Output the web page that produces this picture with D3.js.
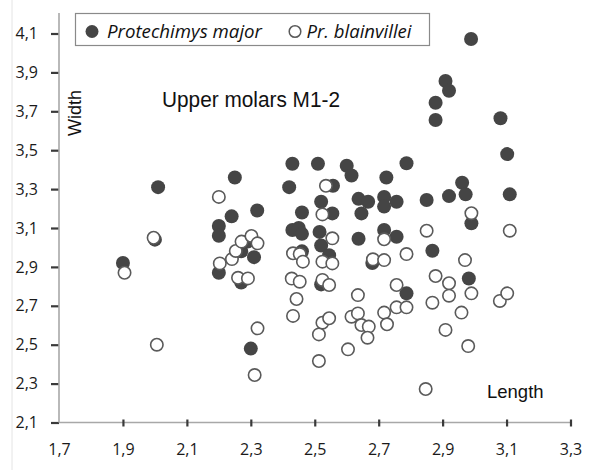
<!DOCTYPE html>
<html>
<head>
<meta charset="utf-8">
<script src="https://cdn.jsdelivr.net/npm/d3@7"></script>
<style>
  body { margin: 0; background: #fff; }
  svg { display: block; }
</style>
</head>
<body>
<div id="chart"></div>
<script>
// tick values for both axes
var xTicks = [1.7, 1.9, 2.1, 2.3, 2.5, 2.7, 2.9, 3.1, 3.3];
var yTicks = [2.1, 2.3, 2.5, 2.7, 2.9, 3.1, 3.3, 3.5, 3.7, 3.9, 4.1];

var seriesNames = ["Protechimys major", "Pr. blainvillei"];

// Protechimys major: [length, width]
var majorPts = [
  [1.90, 2.92], [2.00, 3.04], [2.01, 3.31], [2.20, 3.11], [2.20, 3.06], [2.20, 2.87],
  [2.24, 3.16], [2.25, 3.36], [2.27, 2.98], [2.27, 2.82], [2.29, 3.03], [2.31, 2.95],
  [2.30, 2.48], [2.32, 3.19], [2.43, 3.43], [2.42, 3.31], [2.46, 3.18], [2.43, 3.09],
  [2.45, 3.10], [2.46, 3.07], [2.46, 2.98], [2.51, 3.43], [2.52, 3.235], [2.515, 3.08],
  [2.52, 3.01], [2.545, 2.96], [2.52, 2.81], [2.555, 3.175], [2.557, 3.317], [2.60, 3.42],
  [2.615, 3.37], [2.637, 3.25], [2.667, 3.235], [2.646, 3.175], [2.637, 3.045], [2.68, 2.92],
  [2.717, 3.26], [2.717, 3.21], [2.724, 3.36], [2.717, 3.09], [2.756, 3.235], [2.756, 3.055],
  [2.787, 3.433], [2.787, 2.764], [2.85, 3.244], [2.868, 2.983], [2.878, 3.744], [2.878, 3.655],
  [2.909, 3.856], [2.92, 3.806], [2.92, 3.264], [2.961, 3.333], [2.972, 3.273], [2.99, 3.124],
  [2.982, 2.84], [2.989, 4.072], [3.081, 3.664], [3.102, 3.48], [3.11, 3.273]
];

// Pr. blainvillei: [length, width]
var blainPts = [
  [1.905, 2.87], [1.996, 3.05], [2.006, 2.50], [2.20, 3.26], [2.203, 2.918], [2.241, 2.94],
  [2.253, 2.982], [2.271, 3.03], [2.302, 3.059], [2.321, 3.021], [2.26, 2.844], [2.291, 2.841],
  [2.321, 2.584], [2.312, 2.344], [2.432, 2.97], [2.453, 2.966], [2.463, 2.927], [2.428, 2.84],
  [2.453, 2.824], [2.443, 2.735], [2.432, 2.648], [2.535, 3.317], [2.524, 3.17], [2.555, 3.047],
  [2.524, 2.927], [2.555, 2.918], [2.524, 2.833], [2.545, 2.807], [2.524, 2.613], [2.545, 2.636],
  [2.513, 2.553], [2.513, 2.416], [2.604, 2.476], [2.615, 2.644], [2.635, 2.755], [2.635, 2.661],
  [2.646, 2.601], [2.669, 2.593], [2.665, 2.536], [2.682, 2.939], [2.717, 2.935], [2.717, 3.042],
  [2.717, 2.665], [2.726, 2.605], [2.756, 2.807], [2.756, 2.692], [2.787, 2.692], [2.787, 2.966],
  [2.85, 3.086], [2.847, 2.272], [2.878, 2.853], [2.868, 2.716], [2.92, 2.816], [2.92, 2.752],
  [2.909, 2.576], [2.97, 2.935], [2.99, 3.176], [2.99, 2.764], [2.959, 2.665], [2.98, 2.493],
  [3.079, 2.725], [3.102, 2.764], [3.11, 3.086]
];

const width = 591;
const height = 470;
const pointRadius = 7;

var xScale = d3.scaleLinear().domain([1.7, 3.3]).range([59, 570.5]);
var yScale = d3.scaleLinear().domain([2.1, 4.1]).range([422.5, 33.5]);

var fmt = function(d) { return d3.format(".1f")(d).replace(".", ","); };

var svg = d3.select("#chart").append("svg")
  .attr("width", width)
  .attr("height", height);

// faint frame line on the left
svg.append("line")
  .attr("x1", 12).attr("x2", 12).attr("y1", 0).attr("y2", height)
  .attr("stroke", "#e4e4e4").attr("stroke-width", 1);

// y axis
var yAxis = svg.append("g")
  .attr("transform", "translate(" + xScale(1.7) + ",0)")
  .call(d3.axisLeft(yScale).tickValues(yTicks).tickFormat(fmt).tickSize(8).tickPadding(13));

yAxis.select(".domain").remove();
yAxis.append("line")
  .attr("x1", 0).attr("x2", 0).attr("y1", 13).attr("y2", yScale(2.1))
  .attr("stroke", "#a8a8a8").attr("stroke-width", 1.6);

// x axis
var xAxis = svg.append("g")
  .attr("transform", "translate(0," + yScale(2.1) + ")")
  .call(d3.axisBottom(xScale).tickValues(xTicks).tickFormat(fmt).tickSize(4).tickPadding(17));

xAxis.select(".domain").remove();
xAxis.insert("line", ":first-child")
  .attr("x1", xScale(1.7)).attr("x2", xScale(3.3)).attr("y1", 0).attr("y2", 0)
  .attr("stroke", "#a8a8a8").attr("stroke-width", 1.6);
xAxis.selectAll(".tick line").attr("y1", -3);
xAxis.selectAll(".tick").filter(function(d) { return d === 1.7; }).select("line").remove();

svg.selectAll(".tick line").attr("stroke", "#3a3a3a").attr("stroke-width", 2.2);
svg.selectAll(".tick text")
  .style("font-family", "'Open Sans', sans-serif")
  .style("font-size", "16px")
  .attr("fill", "#1a1a1a");

// points: filled first, open on top
svg.append("g").selectAll("circle")
  .data(majorPts)
  .enter()
  .append("circle")
  .attr("cx", function(d) { return xScale(d[0]); })
  .attr("cy", function(d) { return yScale(d[1]); })
  .attr("r", pointRadius)
  .attr("fill", "#454545");

svg.append("g").selectAll("circle")
  .data(blainPts)
  .enter()
  .append("circle")
  .attr("cx", function(d) { return xScale(d[0]); })
  .attr("cy", function(d) { return yScale(d[1]); })
  .attr("r", pointRadius - 0.8)
  .attr("fill", "#fff")
  .attr("stroke", "#5a5a5a")
  .attr("stroke-width", 1.6);

// title and axis names
svg.append("text")
  .attr("x", 162).attr("y", 107)
  .attr("textLength", 178).attr("lengthAdjust", "spacingAndGlyphs")
  .style("font-family", "'Liberation Sans', Arial, sans-serif")
  .style("font-size", "22px")
  .attr("fill", "#111")
  .text("Upper molars M1-2");

svg.append("text")
  .attr("transform", "translate(81,113) rotate(-90)")
  .style("text-anchor", "middle")
  .style("font-family", "'Liberation Sans', Arial, sans-serif")
  .style("font-size", "18px")
  .attr("fill", "#111")
  .text("Width");

svg.append("text")
  .attr("x", 487).attr("y", 398)
  .style("font-family", "'Liberation Sans', Arial, sans-serif")
  .style("font-size", "18.5px")
  .attr("fill", "#111")
  .text("Length");

// legend
var legend = svg.append("g");
legend.append("rect")
  .attr("x", 75.5).attr("y", 13.5).attr("width", 354).attr("height", 32)
  .attr("fill", "#fff").attr("stroke", "#8a8a8a").attr("stroke-width", 1.2);

legend.append("circle")
  .attr("cx", 92).attr("cy", 31.5).attr("r", 6.5).attr("fill", "#454545");
legend.append("text")
  .attr("x", 107).attr("y", 37.5)
  .attr("textLength", 155).attr("lengthAdjust", "spacingAndGlyphs")
  .style("font-family", "'Open Sans', sans-serif")
  .style("font-style", "italic")
  .style("font-size", "17.5px")
  .attr("fill", "#111")
  .text(seriesNames[0]);

legend.append("circle")
  .attr("cx", 295).attr("cy", 31.5).attr("r", 5.8)
  .attr("fill", "#fff").attr("stroke", "#5a5a5a").attr("stroke-width", 1.5);
legend.append("text")
  .attr("x", 306.5).attr("y", 37.5)
  .attr("textLength", 105).attr("lengthAdjust", "spacingAndGlyphs")
  .style("font-family", "'Open Sans', sans-serif")
  .style("font-style", "italic")
  .style("font-size", "17.5px")
  .attr("fill", "#111")
  .text(seriesNames[1]);
</script>
</body>
</html>
